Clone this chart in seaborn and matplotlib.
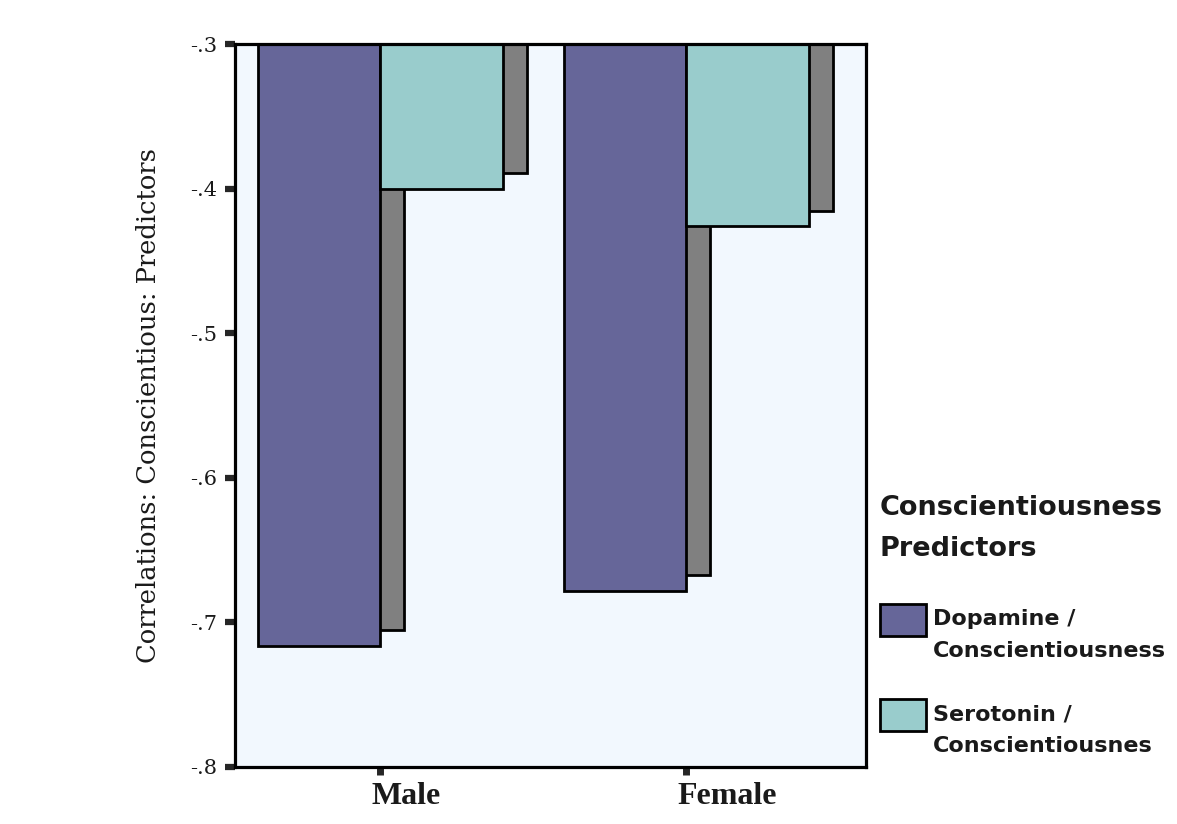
import matplotlib
matplotlib.use("Agg")
import matplotlib.pyplot as plt
from matplotlib.patches import Rectangle
from matplotlib.transforms import ScaledTranslation, blended_transform_factory
import seaborn as sns
import pandas as pd

# ---- data ----
categories = ["Male", "Female"]
predictors = ["Dopamine / Conscientiousness", "Serotonin / Conscientiousnes"]
dopamine = [-0.716, -0.678]
serotonin = [-0.400, -0.426]
yticks = [-0.8, -0.7, -0.6, -0.5, -0.4, -0.3]
ytick_labels = ["-.8", "-.7", "-.6", "-.5", "-.4", "-.3"]
ylabel = "Correlations: Conscientious: Predictors"
legend_title = "Conscientiousness\nPredictors"
legend_labels = ["Dopamine /\nConscientiousness", "Serotonin /\nConscientiousnes"]

colors = ["#666699", "#99CCCC"]
shadow_color = "#808080"
bg = "#F2F8FE"

df = pd.DataFrame({
    "Sex": categories * 2,
    "Predictor": [predictors[0]] * 2 + [predictors[1]] * 2,
    "r": dopamine + serotonin,
})

sns.set_style("white")
plt.rcParams["font.family"] = ["DejaVu Serif"]

fig = plt.figure(figsize=(11.77, 8.24), dpi=100)
ax = fig.add_axes([235 / 1177, 1 - 767 / 824, (866 - 235) / 1177, (767 - 44) / 824])
ax.set_facecolor(bg)

sns.barplot(data=df, x="Sex", y="r", hue="Predictor", order=categories,
            hue_order=predictors, palette=colors, saturation=1, width=0.8,
            edgecolor="black", linewidth=2.0, legend=False, ax=ax, zorder=2)

# 3D-like shadows derived from the drawn bars
dx, dy = 0.078, 0.0105
for p in list(ax.patches):
    x, y = p.get_x(), p.get_y()
    w, h = p.get_width(), p.get_height()
    ax.add_patch(Rectangle((x + dx, y), w, h + dy, facecolor=shadow_color,
                           edgecolor="black", linewidth=2.0, zorder=1))

ax.set_ylim(-0.8, -0.3)
ax.set_xlim(-0.475, 1.587)
ax.set_yticks(yticks)
ax.set_yticklabels(ytick_labels, fontsize=15, color="#1a1a1a", family="DejaVu Serif")
ax.set_xticks(range(len(categories)))
ax.set_xticklabels([])
# category labels sit slightly right of their ticks (left-aligned, small offset)
trans = blended_transform_factory(ax.transData, ax.transAxes) + \
    ScaledTranslation(-9 / 100, -15 / 100, fig.dpi_scale_trans)
for i, c in enumerate(categories):
    ax.text(i, 0, c, transform=trans, ha="left", va="top", fontsize=23,
            fontweight="bold", family="Liberation Serif", color="#1a1a1a")
ax.tick_params(axis="y", direction="out", length=7, width=4.5, pad=6, left=True)
ax.tick_params(axis="x", direction="out", length=6, width=5, pad=4, bottom=True)
for s in ax.spines.values():
    s.set_visible(True)
    s.set_linewidth(2.3)
    s.set_color("black")
ax.set_xlabel("")
ax.set_ylabel(ylabel, fontsize=18.5, family="DejaVu Serif", color="#1a1a1a", labelpad=21)

# legend (manual layout)
fig.text(880 / 1177, 1 - 495 / 824, legend_title, fontsize=19.5, fontweight="bold",
         family="DejaVu Sans", va="top", ha="left", linespacing=1.75, color="#1a1a1a")
handle_tops = [604, 699]
for i in range(2):
    top = handle_tops[i]
    fig.patches.append(Rectangle((880 / 1177, 1 - (top + 32) / 824), 46 / 1177, 32 / 824,
                                 transform=fig.transFigure, facecolor=colors[i],
                                 edgecolor="black", linewidth=2.0, figure=fig))
    fig.text(933 / 1177, 1 - (top + 5) / 824, legend_labels[i], fontsize=16,
             fontweight="bold", family="DejaVu Sans", va="top", ha="left",
             linespacing=1.72, color="#1a1a1a")

fig.savefig("out.png", dpi=100, facecolor="white")
